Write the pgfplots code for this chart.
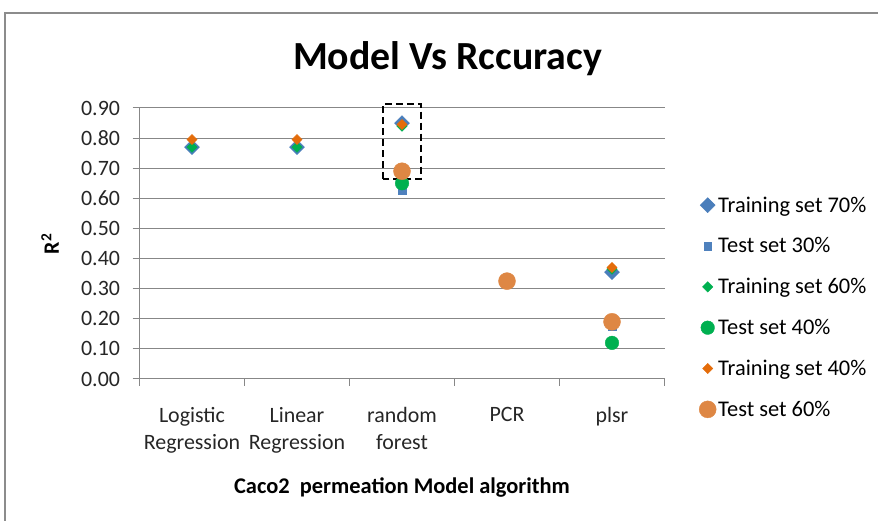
\documentclass[border=0pt]{standalone}
\usepackage{fontspec}
\setmainfont{Carlito}
\usepackage{pgfplots}
\pgfplotsset{compat=1.18}
\definecolor{bluedia}{HTML}{4A7EBB}
\definecolor{bluesq}{HTML}{4F81BD}
\definecolor{grn}{HTML}{00B050}
\definecolor{orgdia}{HTML}{E46C0A}
\definecolor{orgcirc}{HTML}{DE8744}
\definecolor{gridc}{HTML}{878787}
\definecolor{borderc}{HTML}{8C8C8C}
\begin{document}
\begin{tikzpicture}[x=1bp,y=1bp]
\path[use as bounding box] (0,0) rectangle (878,521);
\draw[borderc, line width=1.5bp] (5,0) -- (5,508) -- (878,508);
\begin{axis}[
  at={(139.5bp,142bp)}, anchor=south west, scale only axis,
  width=525bp, height=271bp,
  xmin=-0.5, xmax=4.5, ymin=0, ymax=0.9,
  clip=false,
  axis x line*=bottom, axis y line*=left,
  axis line style={gridc, line width=1bp},
  xtick={-0.5,0.5,1.5,2.5,3.5,4.5}, x tick label as interval,
  xticklabels={{Logistic\\Regression},{Linear\\Regression},{random\\forest},{PCR},{plsr}},
  xticklabel style={align=center, font=\fontsize{22}{27}\selectfont, text=black!85, yshift=-18bp},
  ytick={0,0.1,0.2,0.3,0.4,0.5,0.6,0.7,0.8,0.9},
  yticklabel style={font=\fontsize{22}{26}\selectfont, text=black!85, xshift=-9bp,
    /pgf/number format/.cd, fixed, fixed zerofill, precision=2, assume math mode=true},
  tick align=outside, major tick length=7bp,
  tick style={gridc, line width=1bp},
  ymajorgrids, grid style={gridc, line width=1bp},
  legend style={at={(1.06,0.688)}, anchor=north west, draw=none, fill=none,
    font=\fontsize{22.5}{27}\selectfont, row sep=20bp, legend cell align=left},
  legend image code/.code={\draw[#1] plot coordinates {(6bp,0bp)};},
]
\addplot[only marks, mark=square*, mark size=5.3bp, mark options={rotate=45, fill=bluedia, draw=bluedia}]
  coordinates {(0,0.77) (1,0.77) (2,0.85) (4,0.355)};
\addlegendentry{Training set 70\%}
\addplot[only marks, mark=square*, mark size=3.8bp, mark options={fill=bluesq, draw=bluesq}]
  coordinates {(2,0.625) (4,0.175)};
\addlegendentry{Test set 30\%}
\addplot[only marks, mark=square*, mark size=3.7bp, mark options={rotate=45, fill=grn, draw=grn}]
  coordinates {(0,0.77) (1,0.77) (2,0.84) (4,0.365)};
\addlegendentry{Training set 60\%}
\addplot[only marks, mark=*, mark size=6.8bp, mark options={fill=grn, draw=grn}]
  coordinates {(2,0.65) (4,0.12)};
\addlegendentry{Test set 40\%}
\addplot[only marks, mark=square*, mark size=3.6bp, mark options={rotate=45, fill=orgdia, draw=orgdia}]
  coordinates {(0,0.795) (1,0.795) (2,0.845) (4,0.37)};
\addlegendentry{Training set 40\%}
\addplot[only marks, mark=*, mark size=8.5bp, mark options={fill=orgcirc, draw=orgcirc}]
  coordinates {(2,0.69) (3,0.325) (4,0.19)};
\addlegendentry{Test set 60\%}
\draw[black, line width=2.2bp, dash pattern=on 7bp off 4bp] (axis cs:1.82,0.664) rectangle (axis cs:2.18,0.914);
\end{axis}
\node[font=\fontsize{40}{44}\selectfont\bfseries, anchor=base] at (447.5,451.7) {Model Vs Rccuracy};
\node[font=\fontsize{22}{25}\selectfont\bfseries, rotate=90] at (50,277) {R\textsuperscript{2}};
\node[font=\fontsize{22.5}{25}\selectfont\bfseries] at (402,33) {Caco2\ \ permeation Model algorithm};
\end{tikzpicture}
\end{document}
